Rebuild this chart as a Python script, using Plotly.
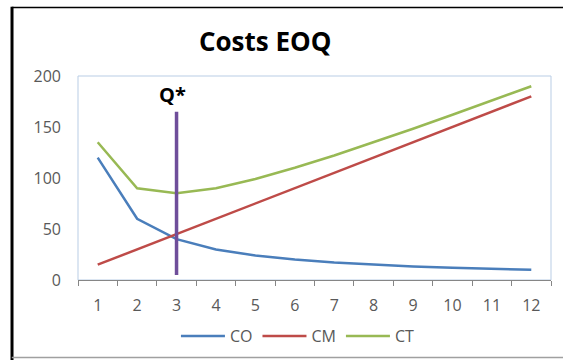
import plotly.graph_objects as go

# Order quantity categories
quantities = ["1", "2", "3", "4", "5", "6", "7", "8", "9", "10", "11", "12"]

# Ordering cost, holding cost and total cost per quantity
co_values = [120, 60, 40, 30, 24, 20, 17.1, 15, 13.3, 12, 10.9, 10]
cm_values = [15, 30, 45, 60, 75, 90, 105, 120, 135, 150, 165, 180]
ct_values = [135, 90, 85, 90, 99, 110, 122.1, 135, 148.3, 162, 175.9, 190]

# Optimal quantity marker
q_star = "3"
q_star_index = quantities.index(q_star)
q_star_span = [5, 165]

FONT = "Open Sans"
GREY = "#595959"

fig = go.Figure()

series = [
    ("CO", co_values, "#4A7EBB"),
    ("CM", cm_values, "#BE4B48"),
    ("CT", ct_values, "#98B954"),
]
for name, vals, color in series:
    fig.add_trace(go.Scatter(
        x=quantities, y=vals, mode="lines", name=name,
        line=dict(color=color, width=2.5),
    ))

fig.add_trace(go.Scatter(
    x=[q_star, q_star], y=q_star_span, mode="lines",
    line=dict(color="#6F4E9A", width=3.5), showlegend=False,
))

fig.add_annotation(
    x=q_star_index, y=182, text="<b>Q*</b>", showarrow=False, xshift=-4,
    font=dict(family=FONT, size=20, color="#000000"),
)

fig.update_layout(
    width=563, height=360,
    margin=dict(l=78, r=12, t=76, b=80, autoexpand=False),
    paper_bgcolor="white", plot_bgcolor="white",
    title=dict(
        text="<b>Costs EOQ</b>", x=0.471, xref="container", xanchor="center",
        y=1 - 42 / 360, yref="container", yanchor="middle",
        font=dict(family=FONT, size=26, color="#000000"),
    ),
    showlegend=True,
    legend=dict(
        orientation="h", x=0.465, xanchor="center", y=-0.275, yanchor="middle",
        font=dict(family=FONT, size=16, color=GREY),
        itemwidth=44, tracegroupgap=0,
    ),
    xaxis=dict(
        type="category", range=[-0.5, 11.5], tickson="boundaries",
        ticks="outside", ticklen=5, tickcolor="#868686",
        showline=True, linecolor="#868686", linewidth=1,
        showgrid=False, zeroline=False, ticklabelstandoff=11,
        tickfont=dict(family=FONT, size=16, color=GREY),
    ),
    yaxis=dict(
        range=[0, 200], dtick=50, showgrid=False, zeroline=False,
        showline=False, ticks="", ticklabelstandoff=16,
        tickfont=dict(family=FONT, size=16, color=GREY),
    ),
)

# Plot area border
fig.add_shape(type="rect", xref="paper", yref="paper", x0=0, y0=0, x1=1, y1=1,
              line=dict(color="#B9CDE5", width=1), layer="below")

# Chart frame: left, top and bottom edges
fig.add_shape(type="line", xref="paper", yref="paper",
              x0=-0.1395, x1=-0.1395, y0=-0.40, y1=1.34,
              line=dict(color="#000000", width=3))
fig.add_shape(type="line", xref="paper", yref="paper",
              x0=-0.14, x1=1.05, y0=1.336, y1=1.336,
              line=dict(color="#000000", width=1.5))
fig.add_shape(type="line", xref="paper", yref="paper",
              x0=-0.14, x1=1.05, y0=-0.38, y1=-0.38,
              line=dict(color="#A0A0A0", width=1.5))

fig.write_html("out.html")
